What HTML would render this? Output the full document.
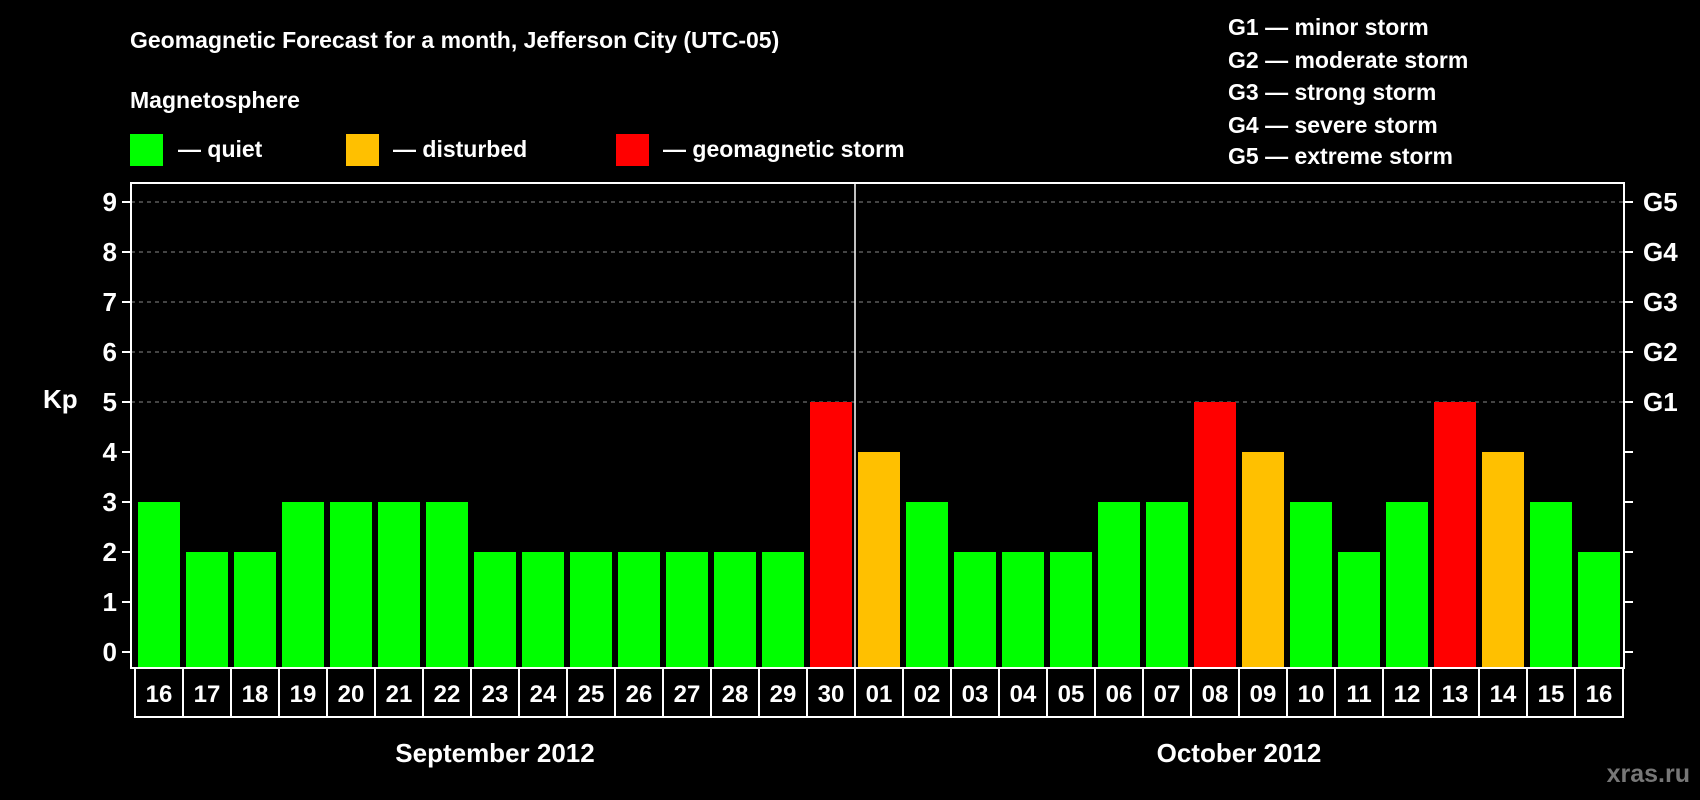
<!DOCTYPE html>
<html><head><meta charset="utf-8"><style>
body{margin:0;background:#000;width:1700px;height:800px;overflow:hidden}
svg{display:block;font-family:"Liberation Sans",sans-serif;font-weight:bold}
</style></head><body>
<svg id="c" width="1700" height="800">
<text x="130" y="48" fill="#fff" font-size="23">Geomagnetic Forecast for a month, Jefferson City (UTC-05)</text>
<text x="130" y="108" fill="#fff" font-size="23">Magnetosphere</text>
<rect x="130" y="134" width="33" height="32" fill="#00ff00"/>
<text x="178" y="157" fill="#fff" font-size="23">— quiet</text>
<rect x="346" y="134" width="33" height="32" fill="#ffc000"/>
<text x="393" y="157" fill="#fff" font-size="23">— disturbed</text>
<rect x="616" y="134" width="33" height="32" fill="#ff0000"/>
<text x="663" y="157" fill="#fff" font-size="23">— geomagnetic storm</text>
<g fill="#fff" font-size="23">
<text x="1228" y="35">G1 — minor storm</text>
<text x="1228" y="68">G2 — moderate storm</text>
<text x="1228" y="100">G3 — strong storm</text>
<text x="1228" y="133">G4 — severe storm</text>
<text x="1228" y="164">G5 — extreme storm</text>
</g>
<text x="43" y="408" fill="#fff" font-size="26">Kp</text>
<g id="grid"></g><g id="bars"></g><g id="axes"></g>
<text x="495" y="762" fill="#fff" font-size="26" text-anchor="middle">September 2012</text>
<text x="1239" y="762" fill="#fff" font-size="26" text-anchor="middle">October 2012</text>
<text x="1690" y="782" fill="#777" font-size="25" text-anchor="end">xras.ru</text>
</svg>
<script>
const days=["16","17","18","19","20","21","22","23","24","25","26","27","28","29","30","01","02","03","04","05","06","07","08","09","10","11","12","13","14","15","16"];
const kp=[3,2,2,3,3,3,3,2,2,2,2,2,2,2,5,4,3,2,2,2,3,3,5,4,3,2,3,5,4,3,2];
const yTicks=[0,1,2,3,4,5,6,7,8,9];
const gLabels=["G1","G2","G3","G4","G5"];
const NS="http://www.w3.org/2000/svg";
const x0=135,cw=48,y0=652,uy=50,pL=131,pR=1624,pT=183,pB=668;
const X=i=>x0+i*cw, Y=v=>y0-v*uy;
function mk(t,a,p){const e=document.createElementNS(NS,t);for(const k in a)e.setAttribute(k,a[k]);p.appendChild(e);return e;}
const grid=document.getElementById('grid'),bars=document.getElementById('bars'),axes=document.getElementById('axes');
yTicks.forEach(v=>{
 if(v>=5){const l=mk('line',{x1:pL,x2:pR,y1:Y(v),y2:Y(v),stroke:'#888','stroke-dasharray':'4 4','stroke-width':1},grid);
 
 }
 const t1=mk('line',{x1:pL-9,x2:pL,y1:Y(v),y2:Y(v),stroke:'#fff','stroke-width':2},axes);
 
 
 const t2=mk('line',{x1:pR,x2:pR+9,y1:Y(v),y2:Y(v),stroke:'#fff','stroke-width':2},axes);
 
 
 const tx=mk('text',{x:117,y:Y(v)+9,fill:'#fff','font-size':26,'text-anchor':'end'},axes);tx.textContent=v;
 
 
});
gLabels.forEach((g,i)=>{const t=mk('text',{x:1643,y:Y(5+i)+9,fill:'#fff','font-size':26},axes);t.textContent=g;
 
 });
kp.forEach((v,i)=>{
 const c=v>=5?'#ff0000':v==4?'#ffc000':'#00ff00';
 const r=mk('rect',{x:X(i)+3,y:Y(v),width:42,height:pB-1-Y(v),fill:c},bars);
 
 
});
const box=mk('rect',{x:pL,y:pT,width:pR-pL,height:pB-pT,fill:'none',stroke:'#fff','stroke-width':2},axes);


const sep=mk('line',{x1:X(15),x2:X(15),y1:pT,y2:pB,stroke:'#fff','stroke-width':1.5},axes);


days.forEach((d,i)=>{
 const r=mk('rect',{x:X(i),y:pB,width:cw,height:49,fill:'none',stroke:'#fff','stroke-width':2},axes);
 
 
 const t=mk('text',{x:X(i)+cw/2,y:pB+34,fill:'#fff','font-size':24,'text-anchor':'middle'},axes);t.textContent=d;
 
 
});
</script>
</body></html>
